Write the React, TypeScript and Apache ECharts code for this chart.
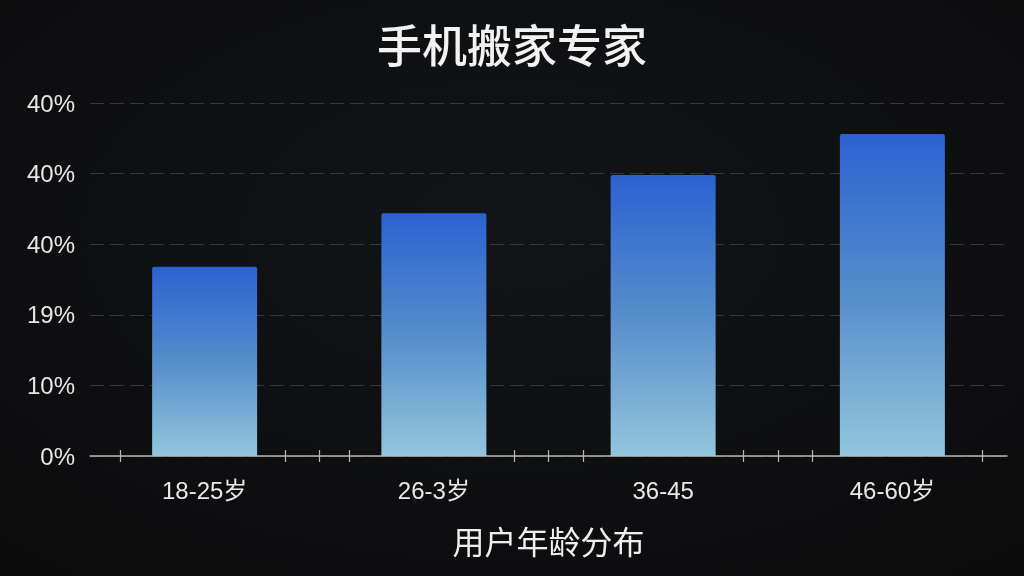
import React, { useEffect, useRef } from "react";
import * as echarts from "echarts";

const title = "手机搬家专家";
const categories = ["18-25岁", "26-3岁", "36-45", "46-60岁"];
const values = [26.8, 34.4, 39.8, 45.6];
const yTickLabels = ["0%", "10%", "19%", "40%", "40%", "40%"];
const xAxisName = "用户年龄分布";
const tickPositions = [0.13, 0.85, 1.0, 1.13, 1.85, 2.0, 2.15, 2.85, 3.0, 3.15, 3.89];

const FONT = "'Noto Sans CJK SC', 'Noto Sans', sans-serif";
const NUMFONT = "'Liberation Sans', 'Noto Sans CJK SC', sans-serif";

export default function App() {
  const ref = useRef<HTMLDivElement>(null);
  useEffect(() => {
    if (!ref.current) return;
    const chart = echarts.init(ref.current, undefined, { renderer: "svg" });
    chart.setOption({
      animation: false,
      backgroundColor: {
        type: "radial",
        x: 0.5,
        y: 0.4,
        r: 0.8,
        colorStops: [
          { offset: 0, color: "#121417" },
          { offset: 1, color: "#0b0b0c" },
        ],
      },
      title: {
        text: title,
        left: "center",
        top: 16,
        textStyle: { color: "#f2f2f2", fontSize: 45, fontWeight: 500, fontFamily: FONT },
      },
      grid: { left: 90, right: 17, top: 103, bottom: 120, containLabel: false },
      xAxis: [
        {
          type: "category",
          data: categories,
          axisLine: { show: true, lineStyle: { color: "#b8b8b8", width: 1.5 } },
          axisTick: { show: false },
          axisLabel: { color: "#e8e8e8", fontSize: 24, fontFamily: NUMFONT, margin: 22 },
          name: xAxisName,
          nameLocation: "middle",
          nameGap: 68,
          nameTextStyle: { color: "#eeeeee", fontSize: 32, fontFamily: FONT },
        },
        {
          type: "value",
          min: 0,
          max: 4,
          position: "bottom",
          offset: 0,
          axisLine: { show: false },
          splitLine: { show: false },
          axisLabel: { show: false },
          axisTick: {
            show: true,
            length: 6,
            customValues: tickPositions,
            lineStyle: { color: "#b8b8b8", width: 1.2 },
          },
        },
        {
          type: "value",
          min: 0,
          max: 4,
          position: "bottom",
          offset: 0,
          axisLine: { show: false },
          splitLine: { show: false },
          axisLabel: { show: false },
          axisTick: {
            show: true,
            inside: true,
            length: 6,
            customValues: tickPositions,
            lineStyle: { color: "#b8b8b8", width: 1.2 },
          },
        },
      ],
      yAxis: {
        type: "value",
        min: 0,
        max: 50,
        interval: 10,
        axisLine: { show: false },
        axisTick: { show: false },
        axisLabel: {
          color: "#e6e6e6",
          fontSize: 24,
          fontFamily: NUMFONT,
          margin: 15,
          formatter: (v: number) => yTickLabels[Math.round(v / 10)] ?? "",
        },
        splitLine: { lineStyle: { color: "#363738", type: [14, 6], width: 1.2 } },
      },
      series: [
        {
          type: "bar",
          data: values,
          xAxisIndex: 0,
          barWidth: 105,
          itemStyle: {
            borderRadius: [2, 2, 0, 0],
            color: {
              type: "linear",
              x: 0,
              y: 0,
              x2: 0,
              y2: 1,
              colorStops: [
                { offset: 0, color: "#2b62d2" },
                { offset: 0.5, color: "#568dcb" },
                { offset: 1, color: "#92c6dc" },
              ],
            },
          },
        },
      ],
    });
    return () => chart.dispose();
  }, []);
  return (
    <div
      ref={ref}
      style={{ position: "fixed", left: 0, top: 0, width: 1024, height: 576 }}
    />
  );
}
